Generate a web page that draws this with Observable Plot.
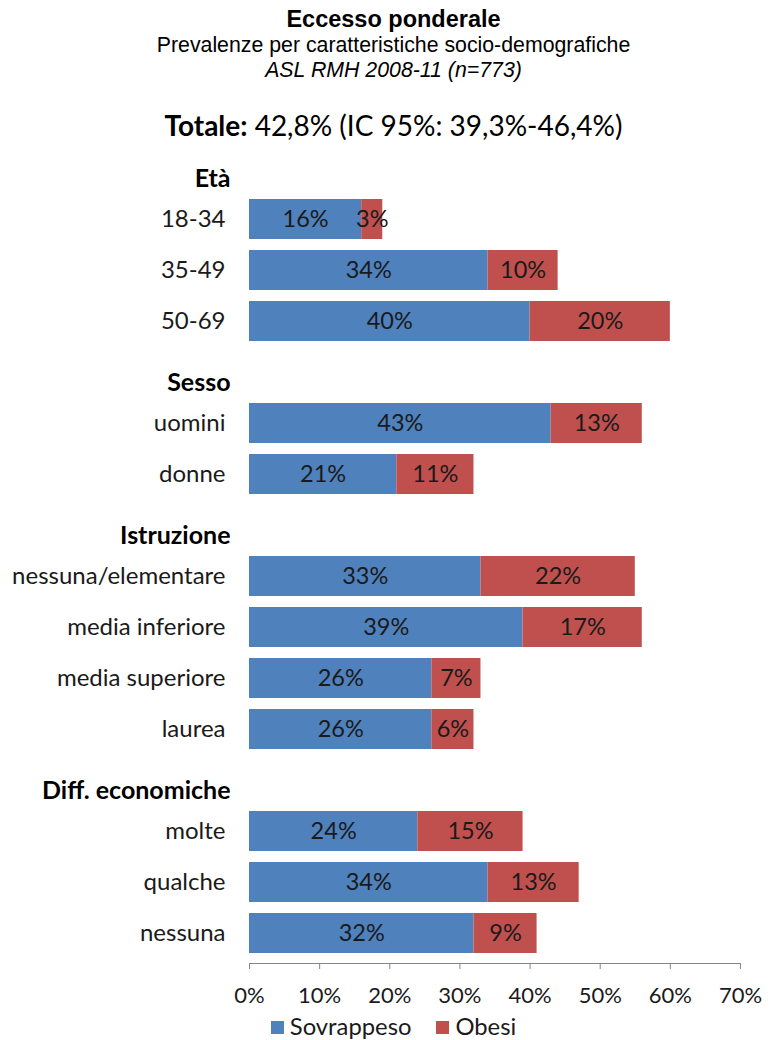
<!DOCTYPE html>
<html>
<head>
<meta charset="utf-8">
<script src="https://cdn.jsdelivr.net/npm/d3@7"></script>
<script src="https://cdn.jsdelivr.net/npm/@observablehq/plot@0.6"></script>
<style>
  html, body { margin: 0; padding: 0; background: #fff; }
  #head { position: relative; width: 777px; height: 141px; }
  #head div { position: absolute; left: 10px; width: 767px; text-align: center; white-space: nowrap; line-height: 1; color: #000; }
  .t1 { top: 8px; font: bold 23.5px "Liberation Sans", Arial, sans-serif; }
  .t2 { top: 35px; font: 21.3px "Liberation Sans", Arial, sans-serif; }
  .t3 { top: 60px; font: italic 21.3px "Liberation Sans", Arial, sans-serif; }
  .t4 { top: 111px; font: 28px Lato, sans-serif; }
  #chart svg { display: block; }
  #legend { display: flex; justify-content: center; gap: 25px; font: 23.8px Lato, sans-serif; color: #1a1a1a; padding-left: 10px; width: 767px; margin-top: 2px; line-height: 1.1; }
  #legend span.sw { display: inline-block; width: 13px; height: 13px; margin-right: 6px; vertical-align: 1px; }
</style>
</head>
<body>
<div id="head">
  <div class="t1">Eccesso ponderale</div>
  <div class="t2">Prevalenze per caratteristiche socio-demografiche</div>
  <div class="t3">ASL RMH 2008-11 (n=773)</div>
  <div class="t4"><b>Totale:</b> 42,8% (IC 95%: 39,3%-46,4%)</div>
</div>
<div id="chart"></div>
<div id="legend"></div>
<script>
// ---- data ----
const groups = ["Età", "Sesso", "Istruzione", "Diff. economiche"];
const groupSizes = [3, 2, 4, 3];
const categories = ["18-34", "35-49", "50-69", "uomini", "donne", "nessuna/elementare", "media inferiore", "media superiore", "laurea", "molte", "qualche", "nessuna"];
const sovrappeso = [16, 34, 40, 43, 21, 33, 39, 26, 26, 24, 34, 32];
const obesi = [3, 10, 20, 13, 11, 22, 17, 7, 6, 15, 13, 9];
const seriesNames = ["Sovrappeso", "Obesi"];
const seriesColors = ["#4F81BD", "#C0504D"];
const xTicks = [0, 10, 20, 30, 40, 50, 60, 70];

// ---- build ----
const domain = [];
let k = 0;
groups.forEach((g, gi) => {
  domain.push(g);
  for (let j = 0; j < groupSizes[gi]; j++) domain.push(categories[k++]);
});
const rows = [];
categories.forEach((c, i) => {
  rows.push({cat: c, serie: seriesNames[0], value: sovrappeso[i]});
  rows.push({cat: c, serie: seriesNames[1], value: obesi[i]});
});
const headers = groups.map(g => ({cat: g}));

const font = "Lato, sans-serif";
const chart = Plot.plot({
  width: 777,
  height: 870,
  marginLeft: 249,
  marginRight: 37,
  marginTop: 0,
  marginBottom: 48,
  style: {fontFamily: font, fontSize: "22px", color: "#1a1a1a", background: "#fff"},
  x: {domain: [0, 70], axis: null},
  y: {domain, range: [0.5, 818.5], paddingInner: 0.22, paddingOuter: 0.11, axis: null},
  color: {domain: seriesNames, range: seriesColors},
  marks: [
    Plot.barX(rows, Plot.stackX({x: "value", y: "cat", fill: "serie", order: seriesNames})),
    Plot.text(rows, Plot.stackX({x: "value", y: "cat", z: "serie", order: seriesNames, text: d => d.value + "%", fill: "#1a1a1a", fontSize: 23.5})),
    Plot.axisY(categories, {tickSize: 0, tickPadding: 24, fontSize: 24, fill: "#1a1a1a", label: null}),
    Plot.text(headers, {y: "cat", frameAnchor: "left", text: "cat", textAnchor: "end", dx: -19, dy: 10, fontWeight: "bold", fontSize: 25, fill: "#000"}),
    Plot.frame({anchor: "bottom", stroke: "#868686"}),
    Plot.axisX(xTicks, {anchor: "bottom", tickSize: 6, tickPadding: 18, stroke: "#868686", fill: "#1a1a1a", fontSize: 22, tickFormat: d => d + "%", label: null})
  ]
});
document.getElementById("chart").appendChild(chart);

const legend = document.getElementById("legend");
seriesNames.forEach((s, i) => {
  const item = document.createElement("div");
  item.innerHTML = `<span class="sw" style="background:${seriesColors[i]}"></span>${s}`;
  legend.appendChild(item);
});
</script>
</body>
</html>
